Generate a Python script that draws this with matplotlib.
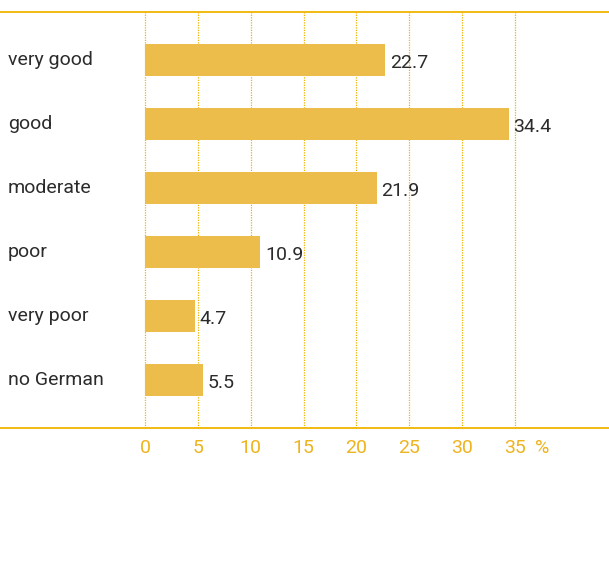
import matplotlib
matplotlib.use("Agg")
import matplotlib.pyplot as plt

categories = ["very good", "good", "moderate", "poor", "very poor", "no German"]
values = [22.7, 34.4, 21.9, 10.9, 4.7, 5.5]
ticks = [0, 5, 10, 15, 20, 25, 30, 35]

BAR = "#EDBD4C"
LINE = "#F0B400"
TICK = "#EEB41E"
TEXT = "#2b2b2b"
FS = 14

plt.rcParams["font.family"] = ["Roboto", "DejaVu Sans"]

W, H = 609, 581
fig = plt.figure(figsize=(W / 100, H / 100), dpi=100)
ax = fig.add_axes([0, (H - 428) / H, 1, 416 / H])

px = 10.571  # pixels per unit on x
x0 = 145
ax.set_xlim(-x0 / px, (W - x0) / px)
ax.set_ylim(len(categories) - 0.25, -0.75)

# ---------- Gridlines ----------
for t in ticks:
    ax.axvline(t, color=LINE, linestyle=(0, (1, 1)), linewidth=0.9, zorder=1)

# ---------- Bars ----------
ypos = list(range(len(categories)))
ax.barh(ypos, values, height=0.5, color=BAR, zorder=2)

for y, v, c in zip(ypos, values, categories):
    ax.text(v + 0.45, y + 0.04, f"{v}", ha="left", va="center",
            fontsize=FS, color=TEXT, zorder=3)
    ax.text(-x0 / px + 8 / px, y, c, ha="left", va="center",
            fontsize=FS, color=TEXT)

# ---------- Top / bottom rules ----------
for s in ["left", "right"]:
    ax.spines[s].set_visible(False)
for s in ["top", "bottom"]:
    ax.spines[s].set_color(LINE)
    ax.spines[s].set_linewidth(1.3)

ax.set_yticks([])
ax.set_xticks(ticks)
ax.set_xticklabels([str(t) for t in ticks])
ax.tick_params(axis="x", length=0, pad=8, labelsize=FS, labelcolor=TICK)
ax.annotate("%", xy=(37.6, 0), xycoords=("data", "axes fraction"),
            xytext=(0, -8), textcoords="offset points",
            fontsize=FS, color=TICK, ha="center", va="top")

fig.savefig("out.png", dpi=100)
